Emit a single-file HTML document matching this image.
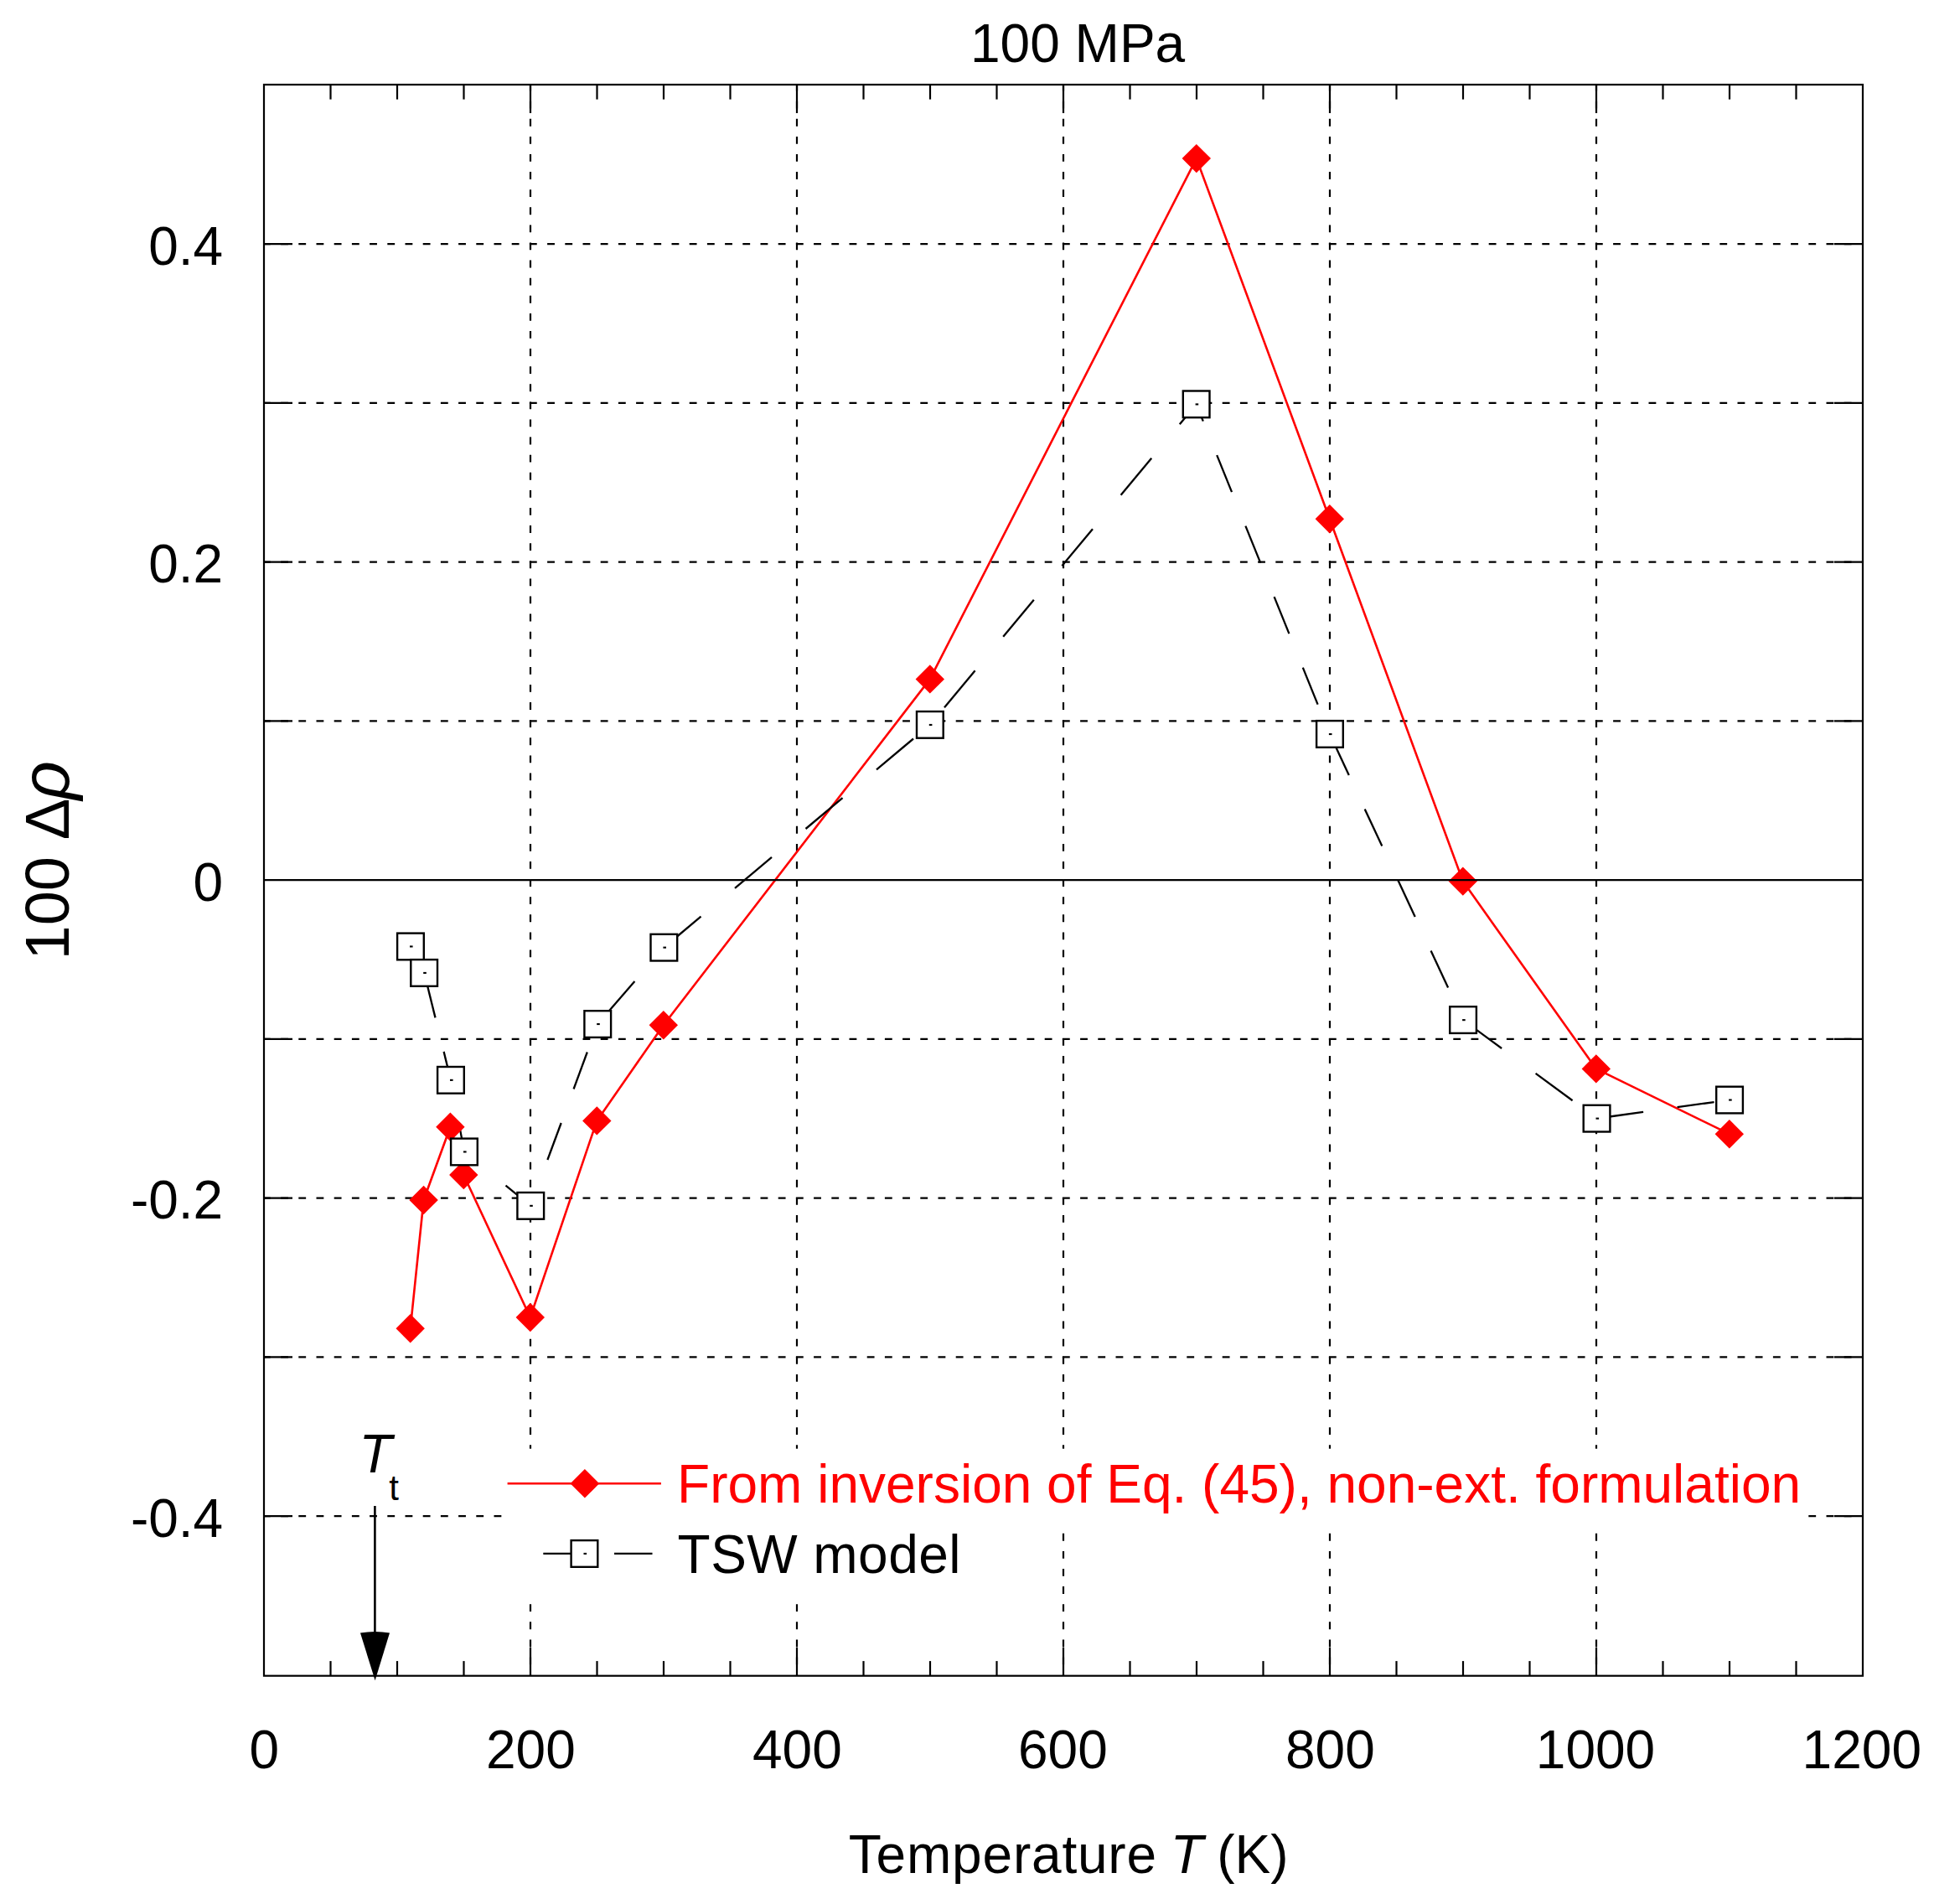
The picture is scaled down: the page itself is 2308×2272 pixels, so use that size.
<!DOCTYPE html>
<html lang="en"><head><meta charset="utf-8"><title>100 MPa</title>
<style>html,body{margin:0;padding:0;background:#fff;}body{width:2308px;height:2272px;overflow:hidden;}svg{display:block;}text{font-family:"Liberation Sans",Arial,Helvetica,sans-serif;}</style></head><body>
<svg width="2308" height="2272" viewBox="0 0 2308 2272">
<rect x="0" y="0" width="2308" height="2272" fill="#fff"/>
<g stroke="#000" stroke-width="2.20" fill="none" stroke-dasharray="8.85 12.25" stroke-dashoffset="-19.7">
<line x1="633.0" y1="101.0" x2="633.0" y2="1999.7"/>
<line x1="951.0" y1="101.0" x2="951.0" y2="1999.7"/>
<line x1="1269.0" y1="101.0" x2="1269.0" y2="1999.7"/>
<line x1="1587.0" y1="101.0" x2="1587.0" y2="1999.7"/>
<line x1="1905.0" y1="101.0" x2="1905.0" y2="1999.7"/>
</g>
<g stroke="#000" stroke-width="2.20" fill="none" stroke-dasharray="8.85 12.35" stroke-dashoffset="-20.1">
<line x1="315.0" y1="291.1" x2="2223.0" y2="291.1"/>
<line x1="315.0" y1="480.8" x2="2223.0" y2="480.8"/>
<line x1="315.0" y1="670.6" x2="2223.0" y2="670.6"/>
<line x1="315.0" y1="860.3" x2="2223.0" y2="860.3"/>
<line x1="315.0" y1="1239.9" x2="2223.0" y2="1239.9"/>
<line x1="315.0" y1="1429.6" x2="2223.0" y2="1429.6"/>
<line x1="315.0" y1="1619.4" x2="2223.0" y2="1619.4"/>
<line x1="315.0" y1="1809.1" x2="2223.0" y2="1809.1"/>
</g>
<g stroke="#000" stroke-width="2.20" fill="none">
<line x1="633.0" y1="101.0" x2="633.0" y2="135.0"/>
<line x1="633.0" y1="1999.7" x2="633.0" y2="1965.7"/>
<line x1="951.0" y1="101.0" x2="951.0" y2="135.0"/>
<line x1="951.0" y1="1999.7" x2="951.0" y2="1965.7"/>
<line x1="1269.0" y1="101.0" x2="1269.0" y2="135.0"/>
<line x1="1269.0" y1="1999.7" x2="1269.0" y2="1965.7"/>
<line x1="1587.0" y1="101.0" x2="1587.0" y2="135.0"/>
<line x1="1587.0" y1="1999.7" x2="1587.0" y2="1965.7"/>
<line x1="1905.0" y1="101.0" x2="1905.0" y2="135.0"/>
<line x1="1905.0" y1="1999.7" x2="1905.0" y2="1965.7"/>
<line x1="394.5" y1="101.0" x2="394.5" y2="118.6"/>
<line x1="394.5" y1="1999.7" x2="394.5" y2="1982.1"/>
<line x1="474.0" y1="101.0" x2="474.0" y2="118.6"/>
<line x1="474.0" y1="1999.7" x2="474.0" y2="1982.1"/>
<line x1="553.5" y1="101.0" x2="553.5" y2="118.6"/>
<line x1="553.5" y1="1999.7" x2="553.5" y2="1982.1"/>
<line x1="712.5" y1="101.0" x2="712.5" y2="118.6"/>
<line x1="712.5" y1="1999.7" x2="712.5" y2="1982.1"/>
<line x1="792.0" y1="101.0" x2="792.0" y2="118.6"/>
<line x1="792.0" y1="1999.7" x2="792.0" y2="1982.1"/>
<line x1="871.5" y1="101.0" x2="871.5" y2="118.6"/>
<line x1="871.5" y1="1999.7" x2="871.5" y2="1982.1"/>
<line x1="1030.5" y1="101.0" x2="1030.5" y2="118.6"/>
<line x1="1030.5" y1="1999.7" x2="1030.5" y2="1982.1"/>
<line x1="1110.0" y1="101.0" x2="1110.0" y2="118.6"/>
<line x1="1110.0" y1="1999.7" x2="1110.0" y2="1982.1"/>
<line x1="1189.5" y1="101.0" x2="1189.5" y2="118.6"/>
<line x1="1189.5" y1="1999.7" x2="1189.5" y2="1982.1"/>
<line x1="1348.5" y1="101.0" x2="1348.5" y2="118.6"/>
<line x1="1348.5" y1="1999.7" x2="1348.5" y2="1982.1"/>
<line x1="1428.0" y1="101.0" x2="1428.0" y2="118.6"/>
<line x1="1428.0" y1="1999.7" x2="1428.0" y2="1982.1"/>
<line x1="1507.5" y1="101.0" x2="1507.5" y2="118.6"/>
<line x1="1507.5" y1="1999.7" x2="1507.5" y2="1982.1"/>
<line x1="1666.5" y1="101.0" x2="1666.5" y2="118.6"/>
<line x1="1666.5" y1="1999.7" x2="1666.5" y2="1982.1"/>
<line x1="1746.0" y1="101.0" x2="1746.0" y2="118.6"/>
<line x1="1746.0" y1="1999.7" x2="1746.0" y2="1982.1"/>
<line x1="1825.5" y1="101.0" x2="1825.5" y2="118.6"/>
<line x1="1825.5" y1="1999.7" x2="1825.5" y2="1982.1"/>
<line x1="1984.5" y1="101.0" x2="1984.5" y2="118.6"/>
<line x1="1984.5" y1="1999.7" x2="1984.5" y2="1982.1"/>
<line x1="2064.0" y1="101.0" x2="2064.0" y2="118.6"/>
<line x1="2064.0" y1="1999.7" x2="2064.0" y2="1982.1"/>
<line x1="2143.5" y1="101.0" x2="2143.5" y2="118.6"/>
<line x1="2143.5" y1="1999.7" x2="2143.5" y2="1982.1"/>
<line x1="315.0" y1="291.1" x2="349.0" y2="291.1"/>
<line x1="2223.0" y1="291.1" x2="2189.0" y2="291.1"/>
<line x1="315.0" y1="480.8" x2="349.0" y2="480.8"/>
<line x1="2223.0" y1="480.8" x2="2189.0" y2="480.8"/>
<line x1="315.0" y1="670.6" x2="349.0" y2="670.6"/>
<line x1="2223.0" y1="670.6" x2="2189.0" y2="670.6"/>
<line x1="315.0" y1="860.3" x2="349.0" y2="860.3"/>
<line x1="2223.0" y1="860.3" x2="2189.0" y2="860.3"/>
<line x1="315.0" y1="1239.9" x2="349.0" y2="1239.9"/>
<line x1="2223.0" y1="1239.9" x2="2189.0" y2="1239.9"/>
<line x1="315.0" y1="1429.6" x2="349.0" y2="1429.6"/>
<line x1="2223.0" y1="1429.6" x2="2189.0" y2="1429.6"/>
<line x1="315.0" y1="1619.4" x2="349.0" y2="1619.4"/>
<line x1="2223.0" y1="1619.4" x2="2189.0" y2="1619.4"/>
<line x1="315.0" y1="1809.1" x2="349.0" y2="1809.1"/>
<line x1="2223.0" y1="1809.1" x2="2189.0" y2="1809.1"/>
</g>
<polyline fill="none" stroke="#f00" stroke-width="2.6" stroke-linejoin="round" points="489.7,1585.3 505.6,1432.0 537.4,1344.7 553.3,1402.0 632.8,1572.0 712.3,1337.4 791.8,1223.2 1109.8,810.4 1427.8,189.1 1586.8,619.2 1745.8,1051.6 1904.8,1275.4 2063.8,1353.2"/>
<g stroke="#000" stroke-width="2.3" fill="none">
<line x1="490.0" y1="1129.4" x2="490.3" y2="1129.9"/>
<line x1="508.6" y1="1170.4" x2="519.5" y2="1214.4"/>
<line x1="529.6" y1="1254.9" x2="538.0" y2="1288.8"/>
<line x1="538.0" y1="1288.8" x2="539.9" y2="1298.9"/>
<line x1="547.5" y1="1339.4" x2="554.0" y2="1374.4"/>
<line x1="554.0" y1="1374.4" x2="563.0" y2="1381.7"/>
<line x1="603.5" y1="1414.7" x2="633.2" y2="1438.8"/>
<line x1="633.2" y1="1438.8" x2="638.5" y2="1424.5"/>
<line x1="653.4" y1="1384.0" x2="669.7" y2="1340.0"/>
<line x1="684.6" y1="1299.5" x2="700.8" y2="1255.5"/>
<line x1="719.3" y1="1215.0" x2="757.4" y2="1171.0"/>
<line x1="792.5" y1="1130.5" x2="836.5" y2="1093.7"/>
<line x1="877.0" y1="1059.8" x2="921.0" y2="1022.9"/>
<line x1="961.5" y1="989.0" x2="1005.5" y2="952.2"/>
<line x1="1046.0" y1="918.3" x2="1090.0" y2="881.5"/>
<line x1="1127.0" y1="844.2" x2="1163.6" y2="800.2"/>
<line x1="1197.2" y1="759.7" x2="1233.8" y2="715.7"/>
<line x1="1267.4" y1="675.2" x2="1304.0" y2="631.2"/>
<line x1="1337.6" y1="590.7" x2="1374.2" y2="546.7"/>
<line x1="1407.8" y1="506.2" x2="1427.6" y2="482.4"/>
<line x1="1427.6" y1="482.4" x2="1435.8" y2="502.6"/>
<line x1="1452.2" y1="543.1" x2="1470.0" y2="587.1"/>
<line x1="1486.4" y1="627.6" x2="1504.2" y2="671.6"/>
<line x1="1520.6" y1="712.1" x2="1538.4" y2="756.1"/>
<line x1="1554.8" y1="796.6" x2="1572.6" y2="840.6"/>
<line x1="1589.3" y1="881.1" x2="1609.8" y2="925.1"/>
<line x1="1628.7" y1="965.6" x2="1649.3" y2="1009.6"/>
<line x1="1668.2" y1="1050.1" x2="1688.7" y2="1094.1"/>
<line x1="1707.6" y1="1134.6" x2="1728.1" y2="1178.6"/>
<line x1="1748.1" y1="1218.6" x2="1792.1" y2="1251.0"/>
<line x1="1832.6" y1="1280.9" x2="1876.6" y2="1313.3"/>
<line x1="1917.1" y1="1333.0" x2="1961.1" y2="1326.9"/>
<line x1="2001.6" y1="1321.2" x2="2045.6" y2="1315.1"/>
</g>
<g>
<path fill="#f00" d="M472.5 1585.3L489.7 1568.1L506.9 1585.3L489.7 1602.5Z"/>
<path fill="#f00" d="M488.4 1432.0L505.6 1414.8L522.8 1432.0L505.6 1449.2Z"/>
<path fill="#f00" d="M520.2 1344.7L537.4 1327.5L554.6 1344.7L537.4 1361.9Z"/>
<path fill="#f00" d="M536.1 1402.0L553.3 1384.8L570.5 1402.0L553.3 1419.2Z"/>
<path fill="#f00" d="M615.6 1572.0L632.8 1554.8L650.0 1572.0L632.8 1589.2Z"/>
<path fill="#f00" d="M695.1 1337.4L712.3 1320.2L729.5 1337.4L712.3 1354.6Z"/>
<path fill="#f00" d="M774.6 1223.2L791.8 1206.0L809.0 1223.2L791.8 1240.4Z"/>
<path fill="#f00" d="M1092.6 810.4L1109.8 793.2L1127.0 810.4L1109.8 827.6Z"/>
<path fill="#f00" d="M1410.6 189.1L1427.8 171.9L1445.0 189.1L1427.8 206.3Z"/>
<path fill="#f00" d="M1569.6 619.2L1586.8 602.0L1604.0 619.2L1586.8 636.4Z"/>
<path fill="#f00" d="M1728.6 1051.6L1745.8 1034.4L1763.0 1051.6L1745.8 1068.8Z"/>
<path fill="#f00" d="M1887.6 1275.4L1904.8 1258.2L1922.0 1275.4L1904.8 1292.6Z"/>
<path fill="#f00" d="M2046.6 1353.2L2063.8 1336.0L2081.0 1353.2L2063.8 1370.4Z"/>
</g>
<g>
<rect x="474.1" y="1113.6" width="31.7" height="31.7" fill="#fff" stroke="#000" stroke-width="2.4"/><rect x="489.0" y="1128.4" width="3.6" height="2.1" fill="#000"/>
<rect x="490.3" y="1145.1" width="31.7" height="31.7" fill="#fff" stroke="#000" stroke-width="2.4"/><rect x="505.2" y="1159.9" width="3.6" height="2.1" fill="#000"/>
<rect x="522.1" y="1273.0" width="31.7" height="31.7" fill="#fff" stroke="#000" stroke-width="2.4"/><rect x="537.0" y="1287.8" width="3.6" height="2.1" fill="#000"/>
<rect x="538.1" y="1358.6" width="31.7" height="31.7" fill="#fff" stroke="#000" stroke-width="2.4"/><rect x="553.0" y="1373.4" width="3.6" height="2.1" fill="#000"/>
<rect x="617.4" y="1423.0" width="31.7" height="31.7" fill="#fff" stroke="#000" stroke-width="2.4"/><rect x="632.2" y="1437.8" width="3.6" height="2.1" fill="#000"/>
<rect x="697.4" y="1206.2" width="31.7" height="31.7" fill="#fff" stroke="#000" stroke-width="2.4"/><rect x="712.2" y="1221.0" width="3.6" height="2.1" fill="#000"/>
<rect x="776.5" y="1114.8" width="31.7" height="31.7" fill="#fff" stroke="#000" stroke-width="2.4"/><rect x="791.4" y="1129.6" width="3.6" height="2.1" fill="#000"/>
<rect x="1094.0" y="849.0" width="31.7" height="31.7" fill="#fff" stroke="#000" stroke-width="2.4"/><rect x="1108.8" y="863.9" width="3.6" height="2.1" fill="#000"/>
<rect x="1411.8" y="466.5" width="31.7" height="31.7" fill="#fff" stroke="#000" stroke-width="2.4"/><rect x="1426.6" y="481.4" width="3.6" height="2.1" fill="#000"/>
<rect x="1571.1" y="860.1" width="31.7" height="31.7" fill="#fff" stroke="#000" stroke-width="2.4"/><rect x="1585.9" y="875.0" width="3.6" height="2.1" fill="#000"/>
<rect x="1730.2" y="1201.2" width="31.7" height="31.7" fill="#fff" stroke="#000" stroke-width="2.4"/><rect x="1745.1" y="1216.1" width="3.6" height="2.1" fill="#000"/>
<rect x="1889.7" y="1318.8" width="31.7" height="31.7" fill="#fff" stroke="#000" stroke-width="2.4"/><rect x="1904.5" y="1333.6" width="3.6" height="2.1" fill="#000"/>
<rect x="2048.2" y="1296.7" width="31.7" height="31.7" fill="#fff" stroke="#000" stroke-width="2.4"/><rect x="2063.1" y="1311.5" width="3.6" height="2.1" fill="#000"/>
</g>
<line x1="315.0" y1="1050.1" x2="2223.0" y2="1050.1" stroke="#000" stroke-width="2.20"/>
<rect x="601" y="1728.7" width="1555" height="97" fill="#fff"/>
<rect x="601" y="1825" width="560" height="83.5" fill="#fff"/>
<line x1="605.6" y1="1770.3" x2="788.9" y2="1770.3" stroke="#f00" stroke-width="2.6"/>
<path fill="#f00" d="M680.6 1770.3L697.9 1753.0L715.2 1770.3L697.9 1787.6Z"/>
<g stroke="#000" stroke-width="2.3"><line x1="648.3" y1="1853.9" x2="690" y2="1853.9"/><line x1="733" y1="1853.9" x2="778.5" y2="1853.9"/></g>
<rect x="681.6" y="1838.1" width="31.7" height="31.7" fill="#fff" stroke="#000" stroke-width="2.4"/><rect x="696.5" y="1852.9" width="3.6" height="2.1" fill="#000"/>
<text x="808.1" y="1793" font-size="64" fill="#f00">From inversion of Eq. (45), non-ext. formulation</text>
<text x="808.6" y="1877" font-size="64" fill="#000" letter-spacing="0.45">TSW model</text>
<rect x="315.0" y="101.0" width="1908.0" height="1898.7" fill="none" stroke="#000" stroke-width="2.20"/>
<line x1="447.4" y1="1797" x2="447.4" y2="1950" stroke="#000" stroke-width="2.6"/>
<path d="M430 1948.6Q447.5 1945.6 465 1948.6L447.6 2005.3Z" fill="#000"/>
<text x="428.5" y="1756.8" font-size="64" font-style="italic">T</text>
<text x="464.3" y="1789.5" font-size="42">t</text>
<g font-size="64" text-anchor="end">
<text x="266.2" y="315.5">0.4</text>
<text x="266.2" y="695.0">0.2</text>
<text x="266.2" y="1074.5">0</text>
<text x="266.2" y="1454.0">-0.2</text>
<text x="266.2" y="1833.5">-0.4</text>
</g>
<g font-size="64" text-anchor="middle">
<text x="315.4" y="2110.4">0</text>
<text x="633.4" y="2110.4">200</text>
<text x="951.4" y="2110.4">400</text>
<text x="1268.4" y="2110.4">600</text>
<text x="1587.4" y="2110.4">800</text>
<text x="1904.0" y="2110.4">1000</text>
<text x="2221.8" y="2110.4">1200</text>
</g>
<text x="1158" y="74" font-size="64">100 MPa</text>
<text x="1012.8" y="2235.3" font-size="64"><tspan letter-spacing="0.8">Temperature</tspan><tspan x="1396.7" font-style="italic">T</tspan><tspan x="1452.3">(K)</tspan></text>
<text transform="translate(82,1145.5) rotate(-90)" font-size="74">100 <tspan dx="3.2">Δ</tspan><tspan font-style="italic" font-size="81" dx="-1.6">ρ</tspan></text>
</svg></body></html>
